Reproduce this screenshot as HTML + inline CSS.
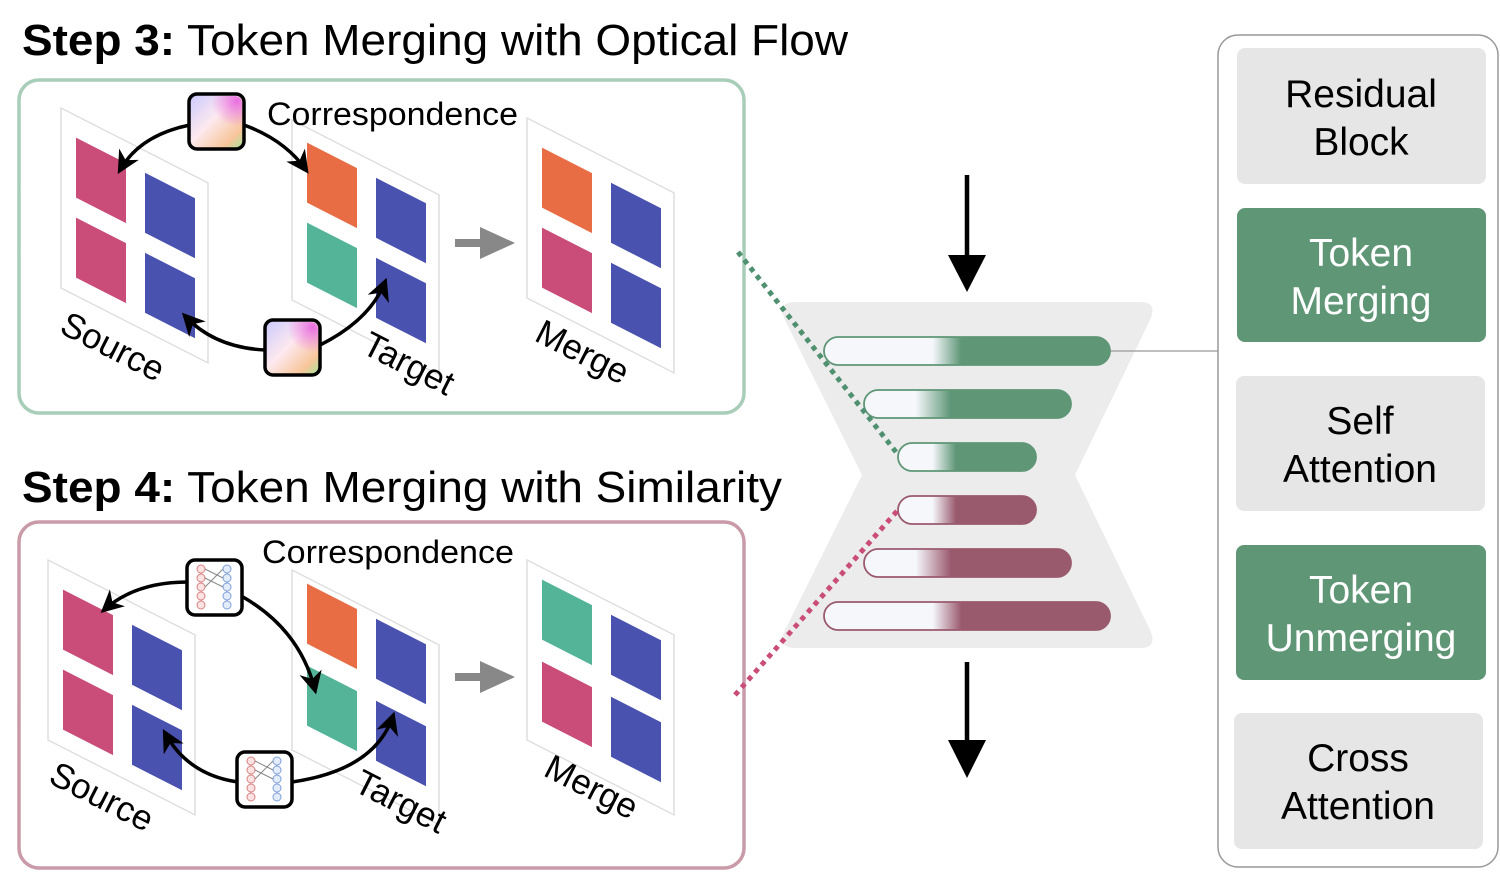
<!DOCTYPE html>
<html><head><meta charset="utf-8"><style>
html,body{margin:0;padding:0;background:#fff;}
svg{display:block;font-family:"Liberation Sans",Arial,sans-serif;}
</style></head><body>
<svg width="1500" height="895" viewBox="0 0 1500 895" xmlns="http://www.w3.org/2000/svg">
<defs>
<marker id="ah" viewBox="0 0 10 10" refX="8" refY="5" markerWidth="6.5" markerHeight="6.5" orient="auto-start-reverse"><path d="M0,0 L10,5 L0,10 L3,5 z" fill="#000"/></marker>
<linearGradient id="flow" x1="0" y1="0" x2="1" y2="1">
<stop offset="0" stop-color="#c9c8ff"/><stop offset="0.45" stop-color="#fde9ef"/><stop offset="0.8" stop-color="#f7c59a"/><stop offset="1" stop-color="#9fe79a"/></linearGradient>
<radialGradient id="flowp" cx="0.9" cy="0.1" r="0.5"><stop offset="0" stop-color="#e86fe0"/><stop offset="1" stop-color="#e86fe0" stop-opacity="0"/></radialGradient>
<linearGradient id="gg" x1="0" x2="1"><stop offset="0.38" stop-color="#f5f7fb"/><stop offset="0.48" stop-color="#5e9676"/></linearGradient>
<linearGradient id="gs" x1="0" x2="1"><stop offset="0.25" stop-color="#f5f7fb"/><stop offset="0.42" stop-color="#5e9676"/></linearGradient>
<linearGradient id="rg" x1="0" x2="1"><stop offset="0.38" stop-color="#f5f7fb"/><stop offset="0.48" stop-color="#9a5a6e"/></linearGradient>
<linearGradient id="rs" x1="0" x2="1"><stop offset="0.25" stop-color="#f5f7fb"/><stop offset="0.42" stop-color="#9a5a6e"/></linearGradient>
<g id="frame"><rect x="0" y="0" width="147" height="180" fill="#fff" stroke="#ddd" stroke-width="1.5"/></g>
<g id="nn">
<rect x="0" y="0" width="55" height="55" rx="8" fill="#fff" stroke="#000" stroke-width="3.5"/>
<g fill="#fbe3e3" stroke="#d98080" stroke-width="1"><circle cx="14" cy="9" r="4"/><circle cx="14" cy="18" r="4"/><circle cx="14" cy="27" r="4"/><circle cx="14" cy="36" r="4"/><circle cx="14" cy="45" r="4"/></g>
<g fill="#e3ecfb" stroke="#7f9fd9" stroke-width="1"><circle cx="40" cy="9" r="4"/><circle cx="40" cy="18" r="4"/><circle cx="40" cy="27" r="4"/><circle cx="40" cy="36" r="4"/><circle cx="40" cy="45" r="4"/></g>
<path d="M18,9 L36,18 M18,18 L36,27 M18,27 L36,9" stroke="#888" stroke-width="1"/>
</g>
<g id="fl"><rect x="0" y="0" width="55" height="55" rx="8" fill="url(#flow)" stroke="#000" stroke-width="3.5"/><rect x="2" y="2" width="51" height="51" rx="7" fill="url(#flowp)"/></g>
</defs>

<!-- Titles -->
<text x="22" y="55" font-size="44" textLength="826" lengthAdjust="spacingAndGlyphs"><tspan font-weight="bold">Step 3:</tspan> Token Merging with Optical Flow</text>
<text x="22" y="502" font-size="44" textLength="760" lengthAdjust="spacingAndGlyphs"><tspan font-weight="bold">Step 4:</tspan> Token Merging with Similarity</text>

<!-- Panel 1 -->
<rect x="19" y="80" width="725" height="333" rx="20" fill="#fff" stroke="#a8cdb8" stroke-width="3.5"/>
<g transform="translate(61,108) skewY(27)"><use href="#frame"/>
<rect x="15" y="22" width="50" height="60" fill="#c94d78"/><rect x="84" y="22" width="50" height="60" fill="#4a52b0"/>
<rect x="15" y="102" width="50" height="60" fill="#c94d78"/><rect x="84" y="102" width="50" height="60" fill="#4a52b0"/></g>
<g transform="translate(292,120) skewY(27)"><use href="#frame"/>
<rect x="15" y="15" width="50" height="60" fill="#e86d44"/><rect x="84" y="15" width="50" height="60" fill="#4a52b0"/>
<rect x="15" y="95" width="50" height="60" fill="#53b498"/><rect x="84" y="95" width="50" height="60" fill="#4a52b0"/></g>
<g transform="translate(527,118) skewY(27)"><use href="#frame"/>
<rect x="15" y="22" width="50" height="60" fill="#e86d44"/><rect x="84" y="22" width="50" height="60" fill="#4a52b0"/>
<rect x="15" y="102" width="50" height="60" fill="#c94d78"/><rect x="84" y="102" width="50" height="60" fill="#4a52b0"/></g>
<text x="267" y="125" font-size="32" textLength="251" lengthAdjust="spacingAndGlyphs">Correspondence</text>
<g font-size="35"><text transform="translate(58,332) rotate(27)">Source</text>
<text transform="translate(360,352) rotate(27)">Target</text>
<text transform="translate(533,340) rotate(27)">Merge</text></g>
<path d="M190,125 Q140,135 120,170" fill="none" stroke="#000" stroke-width="3.5" marker-end="url(#ah)"/>
<path d="M244,125 Q285,140 306,170" fill="none" stroke="#000" stroke-width="3.5" marker-end="url(#ah)"/>
<path d="M266,350 Q215,348 185,316" fill="none" stroke="#000" stroke-width="3.5" marker-end="url(#ah)"/>
<path d="M320,345 Q370,320 385,282" fill="none" stroke="#000" stroke-width="3.5" marker-end="url(#ah)"/>
<use href="#fl" x="189" y="94"/>
<use href="#fl" x="265" y="320"/>
<path d="M455,243 L485,243" stroke="#888" stroke-width="8"/><path d="M480,227 L515,243 L480,259 z" fill="#888"/>

<!-- Panel 2 -->
<rect x="19" y="522" width="725" height="346" rx="20" fill="#fff" stroke="#c99aa8" stroke-width="3.5"/>
<g transform="translate(48,560) skewY(27)"><use href="#frame"/>
<rect x="15" y="22" width="50" height="60" fill="#c94d78"/><rect x="84" y="22" width="50" height="60" fill="#4a52b0"/>
<rect x="15" y="102" width="50" height="60" fill="#c94d78"/><rect x="84" y="102" width="50" height="60" fill="#4a52b0"/></g>
<g transform="translate(292,570) skewY(27)"><use href="#frame"/>
<rect x="15" y="6" width="50" height="60" fill="#e86d44"/><rect x="84" y="6" width="50" height="60" fill="#4a52b0"/>
<rect x="15" y="88" width="50" height="60" fill="#53b498"/><rect x="84" y="88" width="50" height="60" fill="#4a52b0"/></g>
<g transform="translate(527,560) skewY(27)"><use href="#frame"/>
<rect x="15" y="12" width="50" height="60" fill="#53b498"/><rect x="84" y="12" width="50" height="60" fill="#4a52b0"/>
<rect x="15" y="94" width="50" height="60" fill="#c94d78"/><rect x="84" y="94" width="50" height="60" fill="#4a52b0"/></g>
<text x="262" y="563" font-size="32" textLength="252" lengthAdjust="spacingAndGlyphs">Correspondence</text>
<g font-size="35"><text transform="translate(47,782) rotate(27)">Source</text>
<text transform="translate(352,790) rotate(27)">Target</text>
<text transform="translate(542,775) rotate(27)">Merge</text></g>
<path d="M188,582 Q135,582 104,610" fill="none" stroke="#000" stroke-width="3.5" marker-end="url(#ah)"/>
<path d="M243,597 Q300,630 315,690" fill="none" stroke="#000" stroke-width="3.5" marker-end="url(#ah)"/>
<path d="M238,782 Q188,775 165,733" fill="none" stroke="#000" stroke-width="3.5" marker-end="url(#ah)"/>
<path d="M292,782 Q375,770 393,716" fill="none" stroke="#000" stroke-width="3.5" marker-end="url(#ah)"/>
<use href="#nn" x="187" y="560"/>
<use href="#nn" x="237" y="752"/>
<path d="M455,677 L485,677" stroke="#888" stroke-width="8"/><path d="M480,661 L515,677 L480,693 z" fill="#888"/>

<!-- Hourglass -->
<path d="M795,302 L1140,302 Q1158,302 1150,320 L1075,475 L1150,630 Q1158,648 1140,648 L795,648 Q777,648 785,630 L862,475 L785,320 Q777,302 795,302 z" fill="#ececec"/>
<line x1="1110" y1="351" x2="1218" y2="351" stroke="#999" stroke-width="1.2"/>
<g stroke-width="1.8">
<rect x="824" y="337" width="286" height="28" rx="14" fill="url(#gg)" stroke="#5e9676"/>
<rect x="864" y="390" width="207" height="28" rx="14" fill="url(#gs)" stroke="#5e9676"/>
<rect x="898" y="443" width="138" height="28" rx="14" fill="url(#gs)" stroke="#5e9676"/>
<rect x="898" y="496" width="138" height="28" rx="14" fill="url(#rs)" stroke="#9a5a6e"/>
<rect x="864" y="549" width="207" height="28" rx="14" fill="url(#rs)" stroke="#9a5a6e"/>
<rect x="824" y="602" width="286" height="28" rx="14" fill="url(#rg)" stroke="#9a5a6e"/>
</g>
<line x1="738" y1="252" x2="896" y2="452" stroke="#4f9070" stroke-width="5" stroke-dasharray="5,5"/>
<line x1="735" y1="695" x2="898" y2="510" stroke="#c94d78" stroke-width="5" stroke-dasharray="5,5"/>
<line x1="967" y1="175" x2="967" y2="260" stroke="#000" stroke-width="4.5"/><path d="M948,255 L986,255 L967,292 z" fill="#000"/>
<line x1="967" y1="662" x2="967" y2="745" stroke="#000" stroke-width="4.5"/><path d="M948,740 L986,740 L967,778 z" fill="#000"/>

<!-- Right panel -->
<rect x="1218" y="35" width="280" height="832" rx="20" fill="#fff" stroke="#999" stroke-width="1.5"/>
<g font-size="39" text-anchor="middle">
<rect x="1237" y="48" width="249" height="136" rx="8" fill="#e6e6e6"/>
<text x="1361" y="107" fill="#000">Residual</text><text x="1361" y="155" fill="#000">Block</text>
<rect x="1237" y="208" width="249" height="134" rx="8" fill="#5e9676"/>
<text x="1361" y="266" fill="#fff">Token</text><text x="1361" y="314" fill="#fff">Merging</text>
<rect x="1236" y="376" width="249" height="135" rx="8" fill="#e6e6e6"/>
<text x="1360" y="434" fill="#000">Self</text><text x="1360" y="482" fill="#000">Attention</text>
<rect x="1236" y="545" width="250" height="135" rx="8" fill="#5e9676"/>
<text x="1361" y="603" fill="#fff">Token</text><text x="1361" y="651" fill="#fff">Unmerging</text>
<rect x="1234" y="713" width="249" height="136" rx="8" fill="#e6e6e6"/>
<text x="1358" y="771" fill="#000">Cross</text><text x="1358" y="819" fill="#000">Attention</text>
</g>
</svg>
</body></html>
